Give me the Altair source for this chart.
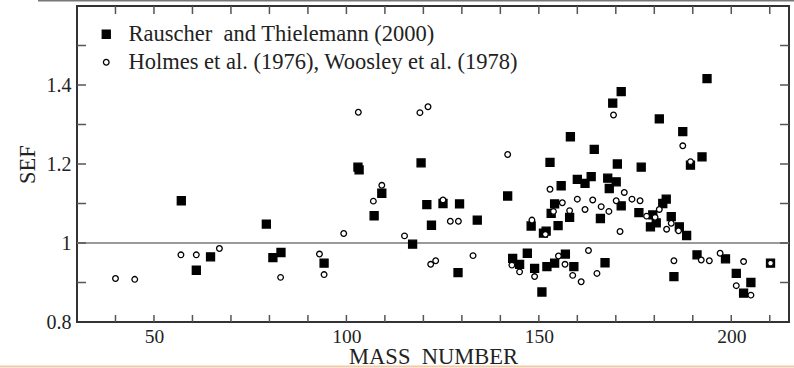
import altair as alt
import pandas as pd

# Rauscher and Thielemann (2000) -- filled squares
ra_A = [57.1, 61, 64.7, 79.2, 80.9, 83, 94.2, 103, 103.3, 107.2, 109.2, 117.2, 119.4, 120.9,
        122.1, 125.1, 129.4, 129, 134, 141.9, 143.2, 145, 147, 148, 148.9, 150.8, 151.2, 151.9,
        152.1, 152.9, 153.2, 154.1, 154.1, 155, 155.8, 156.9, 158, 158.2, 159.1, 160, 162,
        163.6, 164.4, 166, 167.2, 167.9, 168.3, 169.2, 170.1, 170.4, 171.4, 171.4, 176.6, 176,
        179, 179.6, 180.5, 181.3, 182.2, 183.1, 184.4, 185.1, 186.5, 187.4, 188.4, 189.4,
        191.1, 192.4, 193.7, 198.5, 201.3, 203.2, 205.1, 210.2]
ra_sef = [1.107, 0.931, 0.965, 1.048, 0.963, 0.976, 0.949, 1.192, 1.185, 1.069, 1.126, 0.997,
          1.203, 1.097, 1.045, 1.100, 1.099, 0.925, 1.058, 1.119, 0.961, 0.946, 0.974, 1.043,
          0.936, 0.876, 1.025, 1.030, 0.940, 1.204, 1.075, 1.099, 0.949, 1.044, 1.145, 0.972,
          1.065, 1.269, 0.940, 1.161, 1.151, 1.168, 1.237, 1.062, 0.950, 1.164, 1.138, 1.354,
          1.155, 1.200, 1.383, 1.094, 1.192, 1.077, 1.041, 1.071, 1.051, 1.314, 1.100, 1.111,
          1.067, 0.915, 1.041, 1.282, 1.019, 1.197, 0.970, 1.218, 1.416, 0.960, 0.923, 0.873,
          0.900, 0.949]

# Holmes et al. (1976), Woosley et al. (1978) -- open circles
ho_A = [40, 45, 57, 61, 67, 82.9, 93, 94.2, 99.3, 103.1, 107, 109.2, 115.1, 119.1, 121.2, 121.9,
        123.2, 125.1, 127, 129.1, 132.9, 141.9, 143, 145, 148.2, 148.9, 151.7, 152.9, 153.8,
        155.1, 156.1, 156.8, 158, 158.8, 160, 161, 162, 162.9, 164, 165.1, 166.2, 168.2, 169.4,
        170.1, 171.1, 172.2, 174.2, 176.3, 178, 180.2, 181.3, 183.2, 184.4, 185.1, 186.3,
        187.4, 189.4, 192.2, 194.3, 197.1, 201.3, 203.2, 205.1, 210.2]
ho_sef = [0.910, 0.908, 0.970, 0.970, 0.986, 0.913, 0.972, 0.920, 1.024, 1.331, 1.106, 1.146,
          1.018, 1.330, 1.345, 0.946, 0.955, 1.109, 1.055, 1.055, 0.968, 1.224, 0.944, 0.927,
          1.058, 0.915, 1.022, 1.136, 1.080, 0.967, 1.102, 0.946, 1.082, 0.918, 1.111, 0.902,
          1.085, 0.981, 1.109, 0.923, 1.092, 1.080, 1.324, 1.107, 1.029, 1.128, 1.111, 1.107,
          1.068, 1.065, 1.085, 1.035, 1.050, 0.955, 1.031, 1.246, 1.206, 0.957, 0.955, 0.974,
          0.892, 0.953, 0.868, 0.949]

series_names = ["Rauscher\u00a0 and Thielemann (2000)",
                "Holmes et al. (1976), Woosley et al. (1978)"]

x_labels = [50, 100, 150, 200]
x_minor = [40, 50, 60, 70, 80, 90, 100, 110, 120, 130, 140, 150, 160, 170, 180, 190, 200, 210]
y_labels = [0.8, 1.0, 1.2, 1.4]
y_minor = [0.9, 1.0, 1.1, 1.2, 1.3, 1.4, 1.5]

df = pd.concat([
    pd.DataFrame({"A": ra_A, "SEF": ra_sef, "series": series_names[0]}),
    pd.DataFrame({"A": ho_A, "SEF": ho_sef, "series": series_names[1]}),
], ignore_index=True)
df["order"] = range(len(df))

W, H = 712, 316
FONT = "Liberation Serif"
xs = alt.Scale(domain=[30, 215], nice=False, zero=False)
ys = alt.Scale(domain=[0.8, 1.6], nice=False, zero=False)


def leg():
    return alt.Legend(title=None, orient="none", legendX=18, legendY=17,
                      labelFont=FONT, labelFontSize=22.5, labelColor="#222", labelLimit=0,
                      labelOffset=11, rowPadding=5, padding=0,
                      symbolStrokeWidth=1.3, symbolOpacity=1)


points = alt.Chart(df).mark_point(strokeWidth=1.3, opacity=1, fillOpacity=1).encode(
    x=alt.X("A:Q", scale=xs,
            axis=alt.Axis(values=x_labels, title="MASS\u00a0 NUMBER", grid=False, domain=False,
                          ticks=False, labelPadding=5, titlePadding=0, labelFontSize=19.5,
                          titleFontSize=22.5, labelFont=FONT, titleFont=FONT,
                          labelColor="#222", titleColor="#222", titleFontWeight="normal")),
    y=alt.Y("SEF:Q", scale=ys,
            axis=alt.Axis(values=y_labels, title="SEF", grid=False, domain=False, ticks=False,
                          labelExpr="datum.value == 1 ? '1' : format(datum.value, '.1f')",
                          labelPadding=6, titlePadding=7, labelFontSize=20, titleFontSize=22.5,
                          labelFont=FONT, titleFont=FONT, labelColor="#222",
                          titleColor="#222", titleFontWeight="normal")),
    shape=alt.Shape("series:N", scale=alt.Scale(domain=series_names, range=["square", "circle"]),
                    legend=leg()),
    fill=alt.Fill("series:N", scale=alt.Scale(domain=series_names, range=["black", "white"]),
                  legend=leg()),
    stroke=alt.Stroke("series:N", scale=alt.Scale(domain=series_names, range=["black", "black"]),
                      legend=leg()),
    size=alt.Size("series:N", scale=alt.Scale(domain=series_names, range=[64, 32]),
                  legend=leg()),
    order=alt.Order("order:Q"),
)

ref = alt.Chart(pd.DataFrame({"v": [1.0]})).mark_rule(color="#9a9a9a", strokeWidth=2).encode(
    y=alt.Y("v:Q", scale=ys)
)

xt = pd.DataFrame({"t": x_minor})
yt = pd.DataFrame({"t": y_minor})
tick_style = dict(color="#555", strokeWidth=1.5)
xt_bottom = alt.Chart(xt).mark_rule(**tick_style).encode(
    x=alt.X("t:Q", scale=xs), y=alt.value(H), y2=alt.value(H - 7))
xt_top = alt.Chart(xt).mark_rule(**tick_style).encode(
    x=alt.X("t:Q", scale=xs), y=alt.value(0), y2=alt.value(8))
yt_left = alt.Chart(yt).mark_rule(**tick_style).encode(
    y=alt.Y("t:Q", scale=ys), x=alt.value(0), x2=alt.value(9))
yt_right = alt.Chart(yt).mark_rule(**tick_style).encode(
    y=alt.Y("t:Q", scale=ys), x=alt.value(W), x2=alt.value(W - 9))

deco = pd.DataFrame({"a": [0]})
top_line = alt.Chart(deco).mark_rule(color="#777", strokeWidth=1.5).encode(
    x=alt.value(-39), x2=alt.value(W + 10), y=alt.value(-5.3))
bottom_line = alt.Chart(deco).mark_rule(color="#f3caa9", strokeWidth=2).encode(
    x=alt.value(-80), x2=alt.value(W + 10), y=alt.value(360.5))

chart = alt.layer(ref, xt_bottom, xt_top, yt_left, yt_right, bottom_line, points, top_line).properties(
    width=W, height=H,
    autosize=alt.AutoSizeParams(type="none"),
    padding={"left": 77, "top": 6, "right": 5, "bottom": 46},
    background="white",
).configure_view(stroke="#333", strokeWidth=2)

chart.save("out.html", embed_options={"renderer": "svg", "actions": False})
